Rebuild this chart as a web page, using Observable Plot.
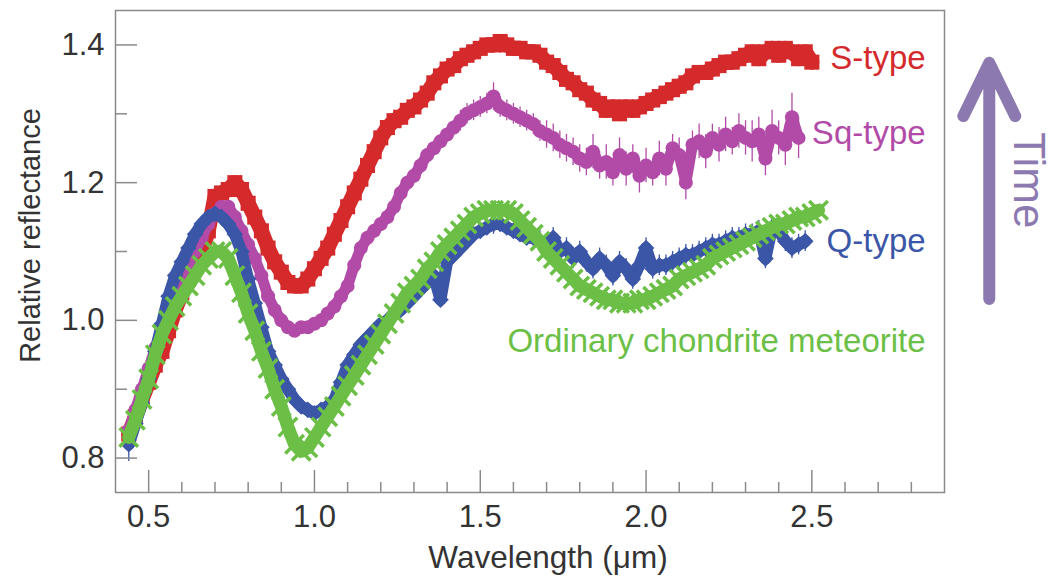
<!DOCTYPE html>
<html>
<head>
<meta charset="utf-8">
<script src="https://cdn.jsdelivr.net/npm/d3@7"></script>
<script src="https://cdn.jsdelivr.net/npm/@observablehq/plot@0.6"></script>
<style>
  html, body { margin: 0; padding: 0; background: #ffffff; }
  #chart { width: 1055px; height: 576px; }
</style>
</head>
<body>
<div id="chart"></div>
<script>
// ---- data ----
const wavelength = [
  0.44,0.46,0.48,0.50,0.52,0.54,0.56,0.58,0.60,0.62,
  0.64,0.66,0.68,0.70,0.72,0.74,0.76,0.78,0.80,0.82,
  0.84,0.86,0.88,0.90,0.92,0.94,0.96,0.98,1.00,1.02,
  1.04,1.06,1.08,1.10,1.12,1.14,1.16,1.18,1.20,1.22,
  1.24,1.26,1.28,1.30,1.32,1.34,1.36,1.38,1.40,1.42,
  1.44,1.46,1.48,1.50,1.52,1.54,1.56,1.58,1.60,1.62,
  1.64,1.66,1.68,1.70,1.72,1.74,1.76,1.78,1.80,1.82,
  1.84,1.86,1.88,1.90,1.92,1.94,1.96,1.98,2.00,2.02,
  2.04,2.06,2.08,2.10,2.12,2.14,2.16,2.18,2.20,2.22,
  2.24,2.26,2.28,2.30,2.32,2.34,2.36,2.38,2.40,2.42,
  2.44,2.46,2.48,2.50,2.52
];

const sType = [
  0.835,0.86,0.885,0.91,0.935,0.955,0.985,1.015,1.04,1.06,
  1.08,1.10,1.13,1.18,1.185,1.19,1.20,1.19,1.17,1.15,
  1.13,1.105,1.085,1.07,1.055,1.05,1.05,1.06,1.075,1.09,
  1.105,1.125,1.145,1.165,1.185,1.205,1.225,1.245,1.265,1.28,
  1.29,1.295,1.305,1.31,1.32,1.33,1.345,1.355,1.365,1.37,
  1.38,1.385,1.39,1.395,1.40,1.40,1.405,1.40,1.395,1.395,
  1.39,1.39,1.385,1.375,1.37,1.36,1.35,1.345,1.335,1.33,
  1.32,1.315,1.305,1.31,1.30,1.31,1.305,1.31,1.315,1.32,
  1.325,1.33,1.335,1.34,1.345,1.355,1.36,1.36,1.365,1.37,
  1.375,1.375,1.38,1.385,1.39,1.38,1.39,1.395,1.385,1.395,
  1.39,1.38,1.39,1.375,null
];

const sqType = [
  0.84,0.87,0.90,0.93,0.96,0.99,1.02,1.045,1.06,1.08,
  1.10,1.12,1.14,1.155,1.165,1.165,1.15,1.13,1.11,1.09,
  1.065,1.035,1.015,1.00,0.99,0.985,0.99,0.99,0.995,1.00,
  1.01,1.02,1.035,1.05,1.08,1.105,1.12,1.13,1.14,1.15,
  1.165,1.185,1.20,1.21,1.225,1.24,1.25,1.26,1.27,1.28,
  1.29,1.30,1.305,1.31,1.315,1.325,1.31,1.305,1.30,1.295,
  1.29,1.285,1.275,1.27,1.265,1.255,1.25,1.245,1.235,1.23,
  1.245,1.225,1.23,1.215,1.24,1.22,1.235,1.21,1.225,1.215,
  1.235,1.22,1.25,1.24,1.20,1.255,1.26,1.245,1.265,1.255,
  1.27,1.26,1.275,1.265,1.26,1.27,1.235,1.275,1.265,1.255,
  1.295,1.265,null,null,null
];

const sqErr = [
  0.01,0.01,0.01,0.01,0.005,0.005,0.005,0.005,0.005,0.005,
  0.005,0.005,0.005,0.005,0.005,0.005,0.005,0.005,0.005,0.005,
  0.005,0.005,0.005,0.005,0.005,0.005,0.005,0.005,0.005,0.005,
  0.005,0.005,0.005,0.005,0.01,0.01,0.01,0.01,0.01,0.01,
  0.01,0.01,0.01,0.01,0.01,0.01,0.01,0.01,0.01,0.01,
  0.015,0.015,0.015,0.015,0.015,0.02,0.015,0.015,0.015,0.015,
  0.015,0.015,0.015,0.02,0.02,0.02,0.02,0.02,0.02,0.02,
  0.025,0.02,0.025,0.02,0.025,0.025,0.02,0.025,0.025,0.02,
  0.025,0.025,0.02,0.025,0.025,0.02,0.025,0.025,0.02,0.025,
  0.025,0.02,0.025,0.025,0.03,0.025,0.025,0.03,0.025,0.03,
  0.035,0.03,null,null,null
];

const qType = [
  0.82,0.85,0.88,0.915,0.955,0.995,1.035,1.065,1.085,1.105,
  1.125,1.14,1.15,1.155,1.15,1.14,1.125,1.10,1.06,1.025,
  0.99,0.955,0.935,0.915,0.90,0.885,0.875,0.87,0.865,0.87,
  0.875,0.885,0.91,0.935,0.95,0.965,0.975,0.985,0.995,1.00,
  1.01,1.015,1.025,1.035,1.045,1.055,1.065,1.03,1.085,1.095,
  1.105,1.115,1.125,1.13,1.135,1.14,1.14,1.135,1.13,1.125,
  1.12,1.12,1.115,1.11,1.12,1.10,1.105,1.09,1.10,1.085,
  1.075,1.09,1.08,1.065,1.085,1.075,1.06,1.08,1.105,1.075,
  1.08,1.08,1.085,1.09,1.095,1.095,1.10,1.105,1.11,1.11,
  1.115,1.12,1.12,1.125,1.125,1.13,1.09,1.135,1.13,1.115,
  1.105,1.11,1.115,null,null
];

const qErr = [
  0.025,0.015,0.01,0.005,0.005,0.005,0.005,0.005,0.005,0.005,
  0.005,0.005,0.005,0.005,0.005,0.005,0.005,0.005,0.005,0.005,
  0.005,0.005,0.02,0.02,0.015,0.01,0.01,0.005,0.005,0.005,
  0.005,0.005,0.005,0.005,0.005,0.005,0.005,0.005,0.005,0.005,
  0.005,0.005,0.005,0.005,0.005,0.005,0.005,0.005,0.005,0.005,
  0.005,0.005,0.005,0.01,0.01,0.015,0.01,0.01,0.01,0.01,
  0.01,0.01,0.015,0.015,0.015,0.015,0.015,0.015,0.015,0.015,
  0.015,0.015,0.015,0.015,0.015,0.015,0.015,0.015,0.015,0.015,
  0.015,0.015,0.015,0.015,0.015,0.015,0.015,0.015,0.015,0.015,
  0.015,0.015,0.015,0.015,0.015,0.015,0.015,0.015,0.015,0.015,
  0.015,0.015,0.015,null,null
];

const chondrite = [
  0.83,0.855,0.885,0.915,0.95,0.98,1.00,1.02,1.035,1.05,
  1.065,1.08,1.09,1.10,1.10,1.09,1.065,1.04,1.01,0.985,
  0.955,0.93,0.90,0.875,0.845,0.82,0.81,0.815,0.83,0.845,
  0.86,0.875,0.89,0.905,0.92,0.935,0.95,0.965,0.98,0.995,
  1.01,1.025,1.04,1.05,1.06,1.075,1.085,1.10,1.11,1.12,
  1.13,1.14,1.15,1.155,1.16,1.16,1.16,1.16,1.155,1.145,
  1.135,1.125,1.115,1.10,1.09,1.08,1.07,1.06,1.05,1.045,
  1.04,1.035,1.03,1.03,1.025,1.025,1.025,1.03,1.03,1.035,
  1.04,1.045,1.05,1.06,1.065,1.07,1.075,1.08,1.09,1.095,
  1.10,1.105,1.11,1.115,1.12,1.125,1.13,1.135,1.14,1.14,
  1.145,1.15,1.15,1.155,1.16
];

const seriesNames = ["S-type", "Sq-type", "Q-type", "Ordinary chondrite meteorite"];
const labelWavelength = [2.843, 2.843, 2.843, 2.843];
const labelReflectance = [1.380, 1.272, 1.114, 0.969];

const xMajorTicks = [0.5, 1.0, 1.5, 2.0, 2.5];
const xMinorTicks = [0.6,0.7,0.8,0.9,1.1,1.2,1.3,1.4,1.6,1.7,1.8,1.9,2.1,2.2,2.3,2.4,2.6,2.7,2.8];
const yMajorTicks = [0.8, 1.0, 1.2, 1.4];
const yMinorTicks = [0.9, 1.1, 1.3];

const timeArrow = [{x: 3.035, y1: 1.031, y2: 1.374}];
const timeLabel = [{x: 3.153, y: 1.2034, text: "Time"}];

// ---- styles ----
const colors = {s: "#d52a2b", sq: "#b24ba7", q: "#3b56a7", oc: "#6cbf46"};
const seriesColors = [colors.s, colors.sq, colors.q, colors.oc];
const axisGray = "#8a8a8a";
const textGray = "#333333";
const timeColor = "#8c79b0";

const rows = (ys, errs) => wavelength
  .map((x, i) => ({x, y: ys[i], e: errs ? errs[i] : 0}))
  .filter(d => d.y != null);

const sRows = rows(sType);
const sqRows = rows(sqType, sqErr);
const qRows = rows(qType, qErr);
const ocRows = rows(chondrite);

const labels = seriesNames.map((name, i) => ({
  name, x: labelWavelength[i], y: labelReflectance[i], color: seriesColors[i]
}));

const band = (data, color, w) => Plot.line(data, {x: "x", y: "y", stroke: color, strokeWidth: w,
  strokeLinejoin: "round", strokeLinecap: "round"});

const chart = Plot.plot({
  width: 1055,
  height: 576,
  marginTop: 10,
  marginRight: 111,
  marginBottom: 84,
  marginLeft: 115,
  style: {fontFamily: "'Liberation Sans', Arial, Helvetica, sans-serif", fontSize: "30px", background: "#ffffff", color: textGray},
  x: {domain: [0.4, 2.9]},
  y: {domain: [0.75, 1.45]},
  marks: [
    // series (drawn back to front)
    band(sRows, colors.s, 15),
    Plot.dot(sRows, {x: "x", y: "y", symbol: "square", r: 8.5, fill: colors.s, stroke: "none"}),
    Plot.ruleX(sqRows, {x: "x", y1: d => d.y - d.e, y2: d => d.y + d.e, stroke: colors.sq, strokeWidth: 1.3}),
    band(sqRows, colors.sq, 11),
    Plot.dot(sqRows, {x: "x", y: "y", symbol: "circle", r: 7, fill: colors.sq, stroke: "none"}),
    Plot.ruleX(qRows, {x: "x", y1: d => d.y - d.e, y2: d => d.y + d.e, stroke: colors.q, strokeWidth: 1.3}),
    band(qRows, colors.q, 12),
    Plot.dot(qRows, {x: "x", y: "y", symbol: "diamond2", r: 7.5, fill: colors.q, stroke: "none"}),
    band(ocRows, colors.oc, 13),
    Plot.dot(ocRows, {x: "x", y: "y", symbol: "times", r: 8.5, stroke: colors.oc, strokeWidth: 3.5}),

    // frame and inward ticks
    Plot.frame({stroke: axisGray, strokeWidth: 1.5}),
    Plot.axisX({ticks: xMajorTicks, tickSize: -22, tickPadding: 34, tickFormat: d3.format(".1f"),
      stroke: axisGray, strokeWidth: 1.5, fill: textGray, label: null, fontSize: 31}),
    Plot.axisX({ticks: xMinorTicks, tickSize: -10, stroke: axisGray, strokeWidth: 1.5, fill: "none", label: null}),
    Plot.axisY({ticks: yMajorTicks, tickSize: -22, tickPadding: 33, tickFormat: d3.format(".1f"),
      stroke: axisGray, strokeWidth: 1.5, fill: textGray, label: null, fontSize: 31}),
    Plot.axisY({ticks: yMinorTicks, tickSize: -12, stroke: axisGray, strokeWidth: 1.5, fill: "none", label: null}),

    // axis titles
    Plot.text(["Wavelength (μm)"], {frameAnchor: "bottom", textAnchor: "middle", lineAnchor: "middle", dx: 18, dy: 65, fontSize: 31.5, fill: textGray}),
    Plot.text(["Relative reflectance"], {frameAnchor: "left", textAnchor: "middle", rotate: -90, dx: -85, dy: -16, fontSize: 29, fill: textGray}),

    // series labels
    Plot.text(labels, {x: "x", y: "y", text: "name", fill: "color", textAnchor: "end", fontSize: 33}),

    // time arrow
    Plot.arrow(timeArrow, {x1: "x", x2: "x", y1: "y1", y2: "y2", stroke: timeColor, strokeWidth: 12,
      headAngle: 52, headLength: 7.4, strokeLinecap: "round", strokeLinejoin: "round"}),
    Plot.text(timeLabel, {x: "x", y: "y", text: "text", rotate: 90, fill: timeColor, fontSize: 44})
  ]
});

document.getElementById("chart").appendChild(chart);
</script>
</body>
</html>
